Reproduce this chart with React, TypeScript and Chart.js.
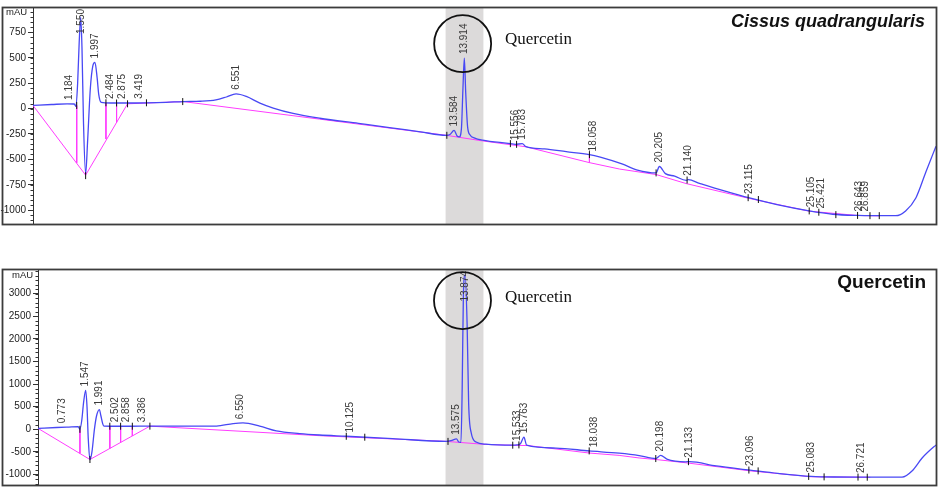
import React, { useEffect, useRef } from "react";
import { Chart, registerables } from "chart.js";
Chart.register(...registerables);

// ---------- Panel 1: Cissus quadrangularis ----------
const cqTime = [0, 0.6, 1.1, 1.33, 1.386, 1.44, 1.49, 1.54, 1.58, 1.63, 1.698, 1.76, 1.85, 1.93, 1.998, 2.07, 2.12, 2.2, 2.5, 3.0, 3.66, 4.3, 4.85, 5.4, 5.9, 6.24, 6.551, 6.88, 7.32, 7.75, 8.39, 9.25, 10.5, 11.5, 12.5, 13.33, 13.45, 13.584, 13.68, 13.75, 13.82, 13.87, 13.914, 13.96, 14.02, 14.1, 14.25, 14.5, 15.4, 15.556, 15.783, 15.9, 16.5, 17.2, 17.95, 18.3, 19.0, 19.5, 20.1, 20.205, 20.4, 20.7, 21.07, 21.14, 21.5, 22.3, 23.115, 24.0, 25.04, 25.8, 26.6, 27.08, 27.83, 28.15, 28.48, 28.8, 29.13];
const cqSignal = [31, 40, 47, 45, 22, 250, 650, 900, 600, -150, -643, -330, 200, 420, 455, 300, 140, 62, 55, 55, 57, 62, 69, 72, 85, 114, 145, 120, 54, 5, -48, -95, -146, -187, -229, -263, -255, -215, -270, -279, -200, 200, 497, 150, -180, -260, -290, -310, -345, -352, -345, -375, -397, -424, -453, -478, -545, -605, -633, -570, -640, -665, -706, -700, -735, -810, -880, -945, -1007, -1040, -1052, -1054, -1054, -1007, -880, -627, -370];
const cqBaseTime = [0, 1.698, 3.05, 4.85, 9.25, 13.33, 14.5, 15.9, 17.95, 18.92, 20.1, 21.07, 23.115, 25.04, 26.6, 27.3];
const cqBaseSignal = [31, -655, 47, 69, -104, -263, -318, -376, -532, -595, -649, -738, -885, -1010, -1052, -1056];
const cqDropTime = [1.41, 2.353, 2.696, 17.95];
const cqDropTop = [31, 55, 55, -453];
const cqDropBottom = [-535, -300, -137, -532];
const cqMarkTime = [1.41, 1.698, 2.353, 2.696, 3.05, 3.66, 4.83, 13.35, 15.4, 15.6, 17.95, 20.1, 21.1, 23.07, 23.4, 25.04, 25.35, 25.9, 26.6, 27.0, 27.3];
const cqMarkSignal = [31, -660, 57, 55, 47, 57, 69, -263, -345, -352, -453, -633, -703, -877, -895, -1007, -1020, -1044, -1052, -1054, -1054];
const cqPeakTimes = [1.184, 1.55, 1.997, 2.484, 2.875, 3.419, 6.551, 13.584, 13.914, 15.556, 15.783, 18.058, 20.205, 21.14, 23.115, 25.105, 25.421, 26.643, 26.859];
const cqPeakLabels = ["1.184", "1.550", "1.997", "2.484", "2.875", "3.419", "6.551", "13.584", "13.914", "15.556", "15.783", "18.058", "20.205", "21.140", "23.115", "25.105", "25.421", "26.643", "26.859"];
const cqYTicks = [-1000, -750, -500, -250, 0, 250, 500, 750];

// ---------- Panel 2: Quercetin standard ----------
const qsTime = [0, 0.6, 1.0, 1.306, 1.36, 1.42, 1.48, 1.547, 1.59, 1.63, 1.685, 1.75, 1.83, 1.9, 1.991, 2.04, 2.1, 2.14, 2.5, 3.0, 3.63, 4.5, 5.3, 5.79, 6.33, 6.65, 7.19, 7.73, 8.49, 9.13, 10.0, 11.5, 13.24, 13.4, 13.575, 13.65, 13.72, 13.76, 13.8, 13.855, 13.92, 13.97, 14.05, 14.21, 14.53, 15.4, 15.533, 15.65, 15.763, 15.85, 16.8, 17.88, 18.85, 19.5, 20.04, 20.198, 20.4, 21.01, 21.133, 22.0, 23.096, 24.0, 25.083, 25.8, 27.0, 28.03, 28.36, 28.68, 29.06, 29.13];
const qsSignal = [21, 40, 50, 57, 0, 200, 600, 860, 500, -200, -668, -500, 0, 300, 437, 300, 120, 71, 68, 68, 70, 70, 70, 72, 127, 141, 71, -35, -95, -126, -154, -205, -267, -250, -211, -280, -288, 900, 3000, 3418, 2325, 564, -70, -281, -330, -351, -345, -320, -175, -351, -415, -478, -528, -580, -647, -577, -660, -719, -715, -810, -901, -975, -1042, -1055, -1057, -1057, -915, -634, -387, -350];
const qsBaseTime = [0, 1.685, 3.63, 9.13, 13.24, 14.53, 15.4, 15.9, 17.88, 18.85, 19.5, 20.04, 21.01, 23.096, 25.083, 27.0];
const qsBaseSignal = [21, -668, 70, -141, -267, -335, -353, -360, -525, -577, -634, -668, -740, -919, -1050, -1062];
const qsDropTime = [1.36, 2.33, 2.68, 3.06, 17.88];
const qsDropTop = [0, 68, 68, 68, -478];
const qsDropBottom = [-533, -425, -292, -147, -525];
const qsMarkTime = [1.36, 1.685, 2.33, 2.68, 3.06, 3.63, 10.0, 10.6, 13.3, 15.4, 15.6, 17.88, 20.04, 21.1, 23.06, 23.36, 25.0, 25.5, 26.6, 26.9];
const qsMarkSignal = [0, -668, 68, 68, 68, 70, -154, -175, -267, -351, -345, -478, -647, -716, -901, -920, -1042, -1052, -1057, -1060];
const qsPeakTimes = [0.773, 1.547, 1.991, 2.502, 2.858, 3.386, 6.55, 10.125, 13.575, 13.874, 15.533, 15.763, 18.038, 20.198, 21.133, 23.096, 25.083, 26.721];
const qsPeakLabels = ["0.773", "1.547", "1.991", "2.502", "2.858", "3.386", "6.550", "10.125", "13.575", "13.874", "15.533", "15.763", "18.038", "20.198", "21.133", "23.096", "25.083", "26.721"];
const qsYTicks = [-1000, -500, 0, 500, 1000, 1500, 2000, 2500, 3000];

const SANS = '"Liberation Sans", Arial, sans-serif';
const SERIF = '"Liberation Serif", "Times New Roman", serif';
const BLUE = "#4848f4";
const PINK = "#ff3cff";

function interp(ts: number[], vs: number[], t: number) {
  if (t <= ts[0]) return vs[0];
  for (let i = 1; i < ts.length; i++) {
    if (t <= ts[i]) {
      const f = (t - ts[i - 1]) / (ts[i] - ts[i - 1]);
      return vs[i - 1] + f * (vs[i] - vs[i - 1]);
    }
  }
  return vs[vs.length - 1];
}

const chromPlugin = {
  id: "chrom",
  beforeDatasetsDraw(chart: any, _a: any, o: any) {
    const { ctx, chartArea: ca, scales } = chart;
    const x0 = scales.x.getPixelForValue(o.band[0]);
    const x1 = scales.x.getPixelForValue(o.band[1]);
    ctx.save();
    ctx.fillStyle = "#dcdada";
    ctx.fillRect(x0, ca.top, x1 - x0, ca.bottom - ca.top);
    ctx.restore();
  },
  afterDatasetsDraw(chart: any, _a: any, o: any) {
    const { ctx, chartArea: ca, scales } = chart;
    const xs = scales.x, ys = scales.y;
    ctx.save();
    // peak labels
    ctx.font = "10px " + SANS;
    ctx.fillStyle = "#3a3a3a";
    ctx.textAlign = "left";
    ctx.textBaseline = "middle";
    o.peakTimes.forEach((t: number, i: number) => {
      const label = o.peakLabels[i];
      const w = ctx.measureText(label).width;
      const px = xs.getPixelForValue(t);
      let by = ys.getPixelForValue(interp(o.time, o.signal, t)) - 4;
      if (by - w < ca.top + 1) by = ca.top + 1 + w;
      ctx.save();
      ctx.translate(px, by);
      ctx.rotate(-Math.PI / 2);
      ctx.fillText(label, 0, 0);
      ctx.restore();
    });
    // circle
    ctx.beginPath();
    ctx.lineWidth = 1.8;
    ctx.strokeStyle = "#111";
    ctx.arc(xs.getPixelForValue(o.circle.t), ys.getPixelForValue(o.circle.v), o.circle.r, 0, Math.PI * 2);
    ctx.stroke();
    // annotation
    ctx.fillStyle = "#111";
    ctx.textBaseline = "alphabetic";
    ctx.textAlign = "left";
    ctx.font = "17px " + SERIF;
    ctx.fillText("Quercetin", o.note.x, o.note.y);
    // title
    ctx.textAlign = "right";
    ctx.font = o.title.font;
    ctx.fillText(o.title.text, o.title.x, o.title.y);
    ctx.restore();
  },
  afterDraw(chart: any, _a: any, o: any) {
    const { ctx, chartArea: ca, scales } = chart;
    const ys = scales.y;
    ctx.save();
    // minor ticks
    ctx.strokeStyle = "#333";
    ctx.lineWidth = 1;
    const start = Math.ceil(ys.min / o.minorStep) * o.minorStep;
    for (let v = start; v <= ys.max; v += o.minorStep) {
      const py = Math.round(ys.getPixelForValue(v)) + 0.5;
      ctx.beginPath();
      ctx.moveTo(ca.left - 2.5, py);
      ctx.lineTo(ca.left, py);
      ctx.stroke();
    }
    // unit
    ctx.fillStyle = "#222";
    ctx.font = "9.5px " + SANS;
    ctx.textAlign = "left";
    ctx.textBaseline = "alphabetic";
    ctx.fillText("mAU", o.unit.x, o.unit.y);
    // frame
    ctx.strokeStyle = "#3c3c3c";
    ctx.lineWidth = 1.8;
    ctx.strokeRect(2.5, ca.top - 0.5, ca.right - 2, ca.bottom - ca.top + 1);
    ctx.restore();
  },
};

type Cfg = any;

const cqPanel: Cfg = {
  time: cqTime, signal: cqSignal,
  baseTime: cqBaseTime, baseSignal: cqBaseSignal,
  dropTime: cqDropTime, dropTop: cqDropTop, dropBottom: cqDropBottom,
  markTime: cqMarkTime, markSignal: cqMarkSignal,
  peakTimes: cqPeakTimes, peakLabels: cqPeakLabels,
  yTicks: cqYTicks, yMin: -1136, yMax: 990, minorStep: 50,
  axisWidth: 33, padding: { left: 0, top: 3, right: 4, bottom: 5 },
  band: [13.31, 14.53],
  circle: { t: 13.86, v: 639, r: 28.5 },
  note: { x: 505, y: 44 },
  title: { text: "Cissus quadrangularis", x: 925, y: 27, font: "italic bold 18px " + SANS },
  unit: { x: 6, y: 15 },
};

const qsPanel: Cfg = {
  time: qsTime, signal: qsSignal,
  baseTime: qsBaseTime, baseSignal: qsBaseSignal,
  dropTime: qsDropTime, dropTop: qsDropTop, dropBottom: qsDropBottom,
  markTime: qsMarkTime, markSignal: qsMarkSignal,
  peakTimes: qsPeakTimes, peakLabels: qsPeakLabels,
  yTicks: qsYTicks, yMin: -1232, yMax: 3524, minorStep: 100,
  axisWidth: 38, padding: { left: 0, top: 3, right: 4, bottom: 3 },
  band: [13.22, 14.45],
  circle: { t: 13.77, v: 2848, r: 28.5 },
  note: { x: 505, y: 40 },
  title: { text: "Quercetin", x: 926, y: 26, font: "bold 19px " + SANS },
  unit: { x: 12, y: 16 },
};

function Panel({ cfg, top, height }: { cfg: Cfg; top: number; height: number }) {
  const ref = useRef<HTMLCanvasElement>(null);
  useEffect(() => {
    const pts = (xs: number[], vs: number[]) => xs.map((x, i) => ({ x, y: vs[i] }));
    const drops: any[] = [];
    cfg.dropTime.forEach((t: number, i: number) => {
      drops.push({ x: t, y: cfg.dropTop[i] }, { x: t, y: cfg.dropBottom[i] }, { x: t, y: null });
    });
    const chart = new Chart(ref.current as HTMLCanvasElement, {
      type: "line",
      data: {
        datasets: [
          {
            data: pts(cfg.markTime, cfg.markSignal) as any,
            showLine: false,
            pointStyle: "line",
            rotation: 90,
            pointRadius: 3.5,
            pointBorderColor: "#111",
            pointBorderWidth: 1,
            borderColor: "#111",
            order: 0,
          } as any,
          {
            data: pts(cfg.time, cfg.signal) as any,
            borderColor: BLUE,
            borderWidth: 1.3,
            pointRadius: 0,
            cubicInterpolationMode: "monotone",
            order: 1,
          },
          {
            data: pts(cfg.baseTime, cfg.baseSignal) as any,
            borderColor: PINK,
            borderWidth: 1,
            pointRadius: 0,
            order: 2,
          },
          {
            data: drops,
            borderColor: PINK,
            borderWidth: 1,
            pointRadius: 0,
            spanGaps: false,
            order: 3,
          },
        ],
      },
      options: {
        responsive: false,
        animation: false,
        devicePixelRatio: 1,
        layout: { padding: cfg.padding },
        plugins: {
          legend: { display: false },
          tooltip: { enabled: false },
          chrom: cfg,
        } as any,
        scales: {
          x: { type: "linear", min: 0, max: 29.13, display: false },
          y: {
            type: "linear",
            min: cfg.yMin,
            max: cfg.yMax,
            afterBuildTicks: (s: any) => {
              s.ticks = cfg.yTicks.map((v: number) => ({ value: v }));
            },
            afterFit: (s: any) => {
              s.width = cfg.axisWidth;
            },
            grid: { drawOnChartArea: false, drawTicks: true, tickLength: 5, color: "#333", lineWidth: 1 },
            border: { display: true, color: "#333", width: 1 },
            ticks: {
              color: "#222",
              font: { family: SANS, size: 10 },
              padding: 2,
              autoSkip: false,
              callback: (v: any) => String(v),
            },
          },
        },
      },
      plugins: [chromPlugin as any],
    });
    return () => chart.destroy();
  }, []);
  return (
    <canvas
      ref={ref}
      width={941}
      height={height}
      style={{ position: "absolute", left: 0, top, width: 941, height }}
    />
  );
}

export default function App() {
  return (
    <div style={{ position: "absolute", left: 0, top: 0, width: 941, height: 493, background: "#fff" }}>
      <Panel cfg={cqPanel} top={0} height={232} />
      <Panel cfg={qsPanel} top={262} height={231} />
    </div>
  );
}
